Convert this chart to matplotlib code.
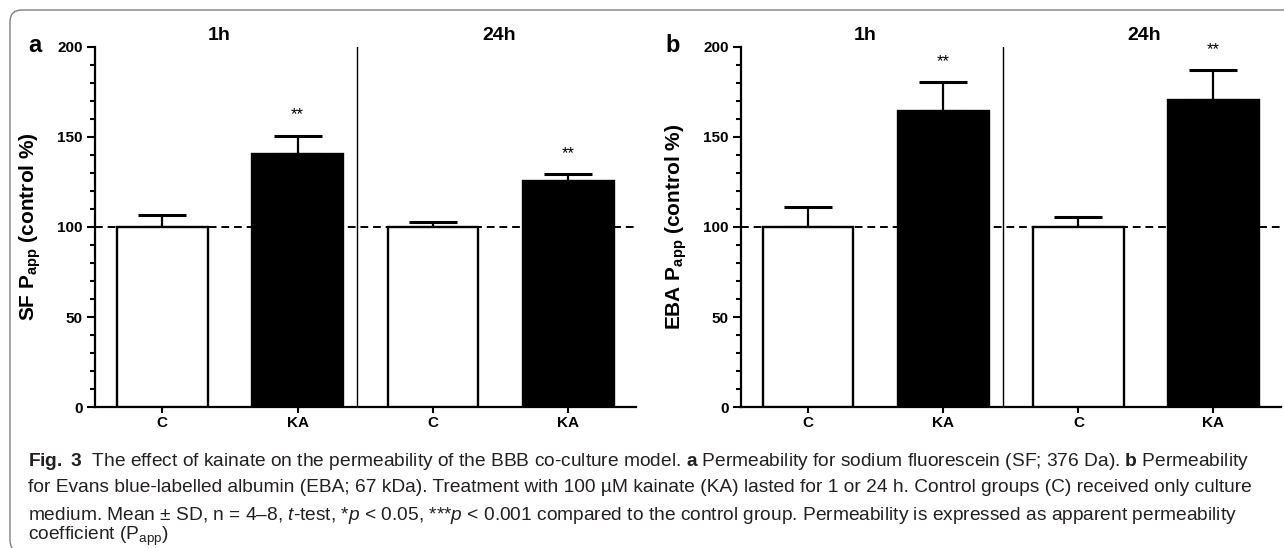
import matplotlib
matplotlib.use("Agg")
import matplotlib.pyplot as plt
from matplotlib import font_manager
from matplotlib.patches import FancyBboxPatch
from matplotlib.ticker import MultipleLocator

# --- data ---
groups = ["C", "KA", "C", "KA"]
times = ["1h", "24h"]
sf_ctrl = [100, 100]
sf_ctrl_sd = [6.7, 2.9]
sf_ka = [140.7, 125.3]
sf_ka_sd = [10.0, 4.1]
eba_ctrl = [100, 100]
eba_ctrl_sd = [10.9, 5.7]
eba_ka = [164.6, 170.2]
eba_ka_sd = [15.6, 16.8]
stars = ["**", "**"]

caption_lines = [
    r"$\mathbf{Fig.\ 3}$  The effect of kainate on the permeability of the BBB co-culture model. $\mathbf{a}$ Permeability for sodium fluorescein (SF; 376 Da). $\mathbf{b}$ Permeability",
    "for Evans blue-labelled albumin (EBA; 67 kDa). Treatment with 100 µM kainate (KA) lasted for 1 or 24 h. Control groups (C) received only culture",
    r"medium. Mean ± SD, n = 4–8, $t$-test, *$p$ < 0.05, ***$p$ < 0.001 compared to the control group. Permeability is expressed as apparent permeability",
    r"coefficient (P$_{\mathrm{app}}$)",
]

names = {f.name for f in font_manager.fontManager.ttflist}
narrow = "Liberation Sans Narrow" if "Liberation Sans Narrow" in names else "Liberation Sans"
arial = "Liberation Sans"

plt.rcParams["font.family"] = [arial, "DejaVu Sans"]
plt.rcParams["mathtext.fontset"] = "custom"
plt.rcParams["mathtext.rm"] = narrow
plt.rcParams["mathtext.it"] = narrow + ":italic"
plt.rcParams["mathtext.bf"] = narrow + ":bold"

W, H = 1284, 548
fig = plt.figure(figsize=(W / 100, H / 100), dpi=100)

# frame around the figure (only left/top visible, rest runs off the page)
frame = FancyBboxPatch((10, -4), 1320, 542, boxstyle="round,pad=0,rounding_size=12",
                       transform=None, fill=False, edgecolor="#808080", linewidth=1.0)
fig.patches.append(frame)


def panel(ax, ctrl, ctrl_sd, ka, ka_sd, ylabel):
    vals = [ctrl[0], ka[0], ctrl[1], ka[1]]
    errs = [ctrl_sd[0], ka_sd[0], ctrl_sd[1], ka_sd[1]]
    xs = list(range(len(vals)))
    colors = ["white", "black", "white", "black"]
    ax.axhline(100, color="black", linewidth=1.4, linestyle=(0, (4, 2.5)), zorder=1)
    ax.errorbar(xs, vals, yerr=[[0] * 4, errs], fmt="none", ecolor="black",
                elinewidth=1.6, capsize=17, capthick=2.2, zorder=2)
    ax.bar(xs, vals, width=0.67, color=colors, edgecolor="black", linewidth=1.7, zorder=3)
    ax.plot([1.44, 1.44], [0, 200], color="black", linewidth=1.0, zorder=4)
    for i, xi in enumerate([1, 3]):
        ax.text(xi, vals[xi] + errs[xi] + 11.5, stars[i], ha="center", va="center",
                fontsize=12, fontweight="normal")
    for t, xt in zip(times, [0.42, 2.49]):
        ax.text(xt, 206, t, ha="center", va="center", fontsize=14, fontweight="bold",
                clip_on=False)
    ax.set_xlim(-0.5, 3.5)
    ax.set_ylim(0, 200)
    ax.set_xticks(xs)
    ax.set_xticklabels(groups, fontweight="bold", fontsize=11)
    ax.set_yticks([0, 50, 100, 150, 200])
    ax.set_yticklabels(["0", "50", "100", "150", "200"], fontweight="bold", fontsize=11)
    ax.yaxis.set_minor_locator(MultipleLocator(10))
    for s in ["top", "right"]:
        ax.spines[s].set_visible(False)
    for s in ["left", "bottom"]:
        ax.spines[s].set_linewidth(1.6)
    ax.tick_params(axis="y", which="major", length=5.5, width=1.5, pad=3)
    ax.tick_params(axis="y", which="minor", length=3.5, width=1.5)
    ax.tick_params(axis="x", which="major", length=4, width=1.5, pad=2)
    ax.set_ylabel(ylabel, fontsize=15, fontweight="bold")
    ax.yaxis.set_label_coords(-0.095, 0.5)


ax_a = fig.add_axes([94.7 / W, 140.7 / H, 541.3 / W, 360.6 / H])
ax_b = fig.add_axes([740.7 / W, 140.7 / H, 540.3 / W, 360.6 / H])
panel(ax_a, sf_ctrl, sf_ctrl_sd, sf_ka, sf_ka_sd, r"SF P$_{\mathbf{app}}$ (control %)")
panel(ax_b, eba_ctrl, eba_ctrl_sd, eba_ka, eba_ka_sd, r"EBA P$_{\mathbf{app}}$ (control %)")

fig.text(35 / W, 1 - 46 / H, "a", ha="center", va="center", fontsize=17, fontweight="bold")
fig.text(673 / W, 1 - 46 / H, "b", ha="center", va="center", fontsize=17, fontweight="bold")

for i, line in enumerate(caption_lines):
    y = [461, 488, 515, 536][i]
    fig.text(28 / W, 1 - y / H, line, ha="left", va="center", fontsize=13.8,
             family=[narrow, "DejaVu Sans"], color="#231f20")

fig.savefig("out.png", dpi=100)
